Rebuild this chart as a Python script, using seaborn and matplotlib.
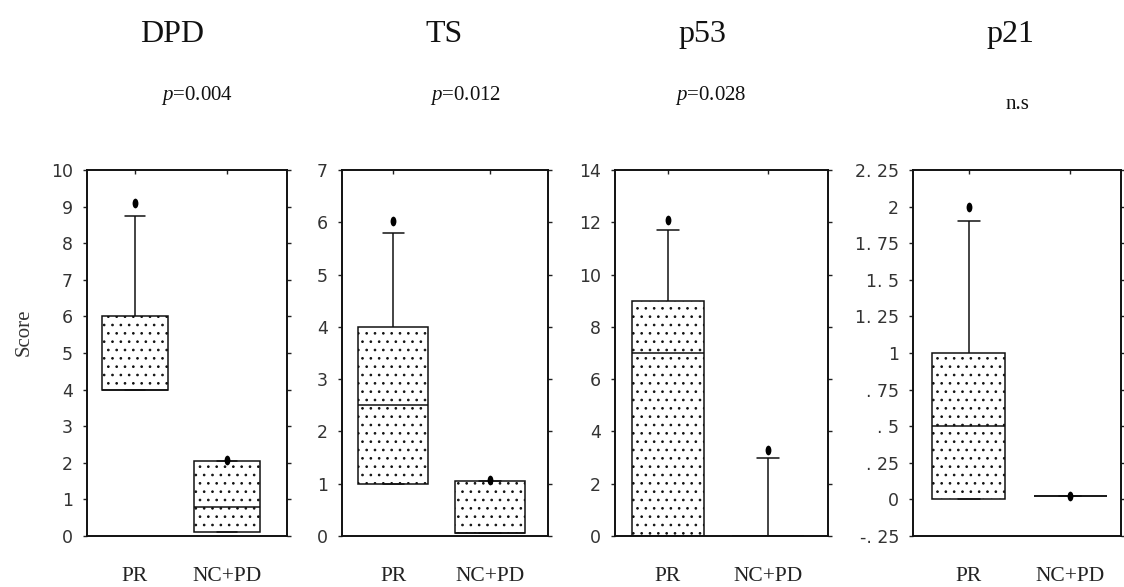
import numpy as np
import pandas as pd
import matplotlib
matplotlib.use("Agg")
import matplotlib.pyplot as plt
import seaborn as sns
from matplotlib.markers import MarkerStyle
from matplotlib.transforms import Affine2D, ScaledTranslation

# ---- data -------------------------------------------------------------
groups = ["PR", "NC+PD"]
panel_titles = ["DPD", "TS", "p53", "p21"]
p_labels = [r"$p$=0.004", r"$p$=0.012", r"$p$=0.028", "n.s"]

# five-number summaries: lower whisker, Q1, median, Q3, upper whisker
dpd_pr = [4.0, 4.0, 4.0, 6.0, 8.75]
dpd_nc = [0.1, 0.1, 0.8, 2.05, 2.05]
ts_pr = [1.0, 1.0, 2.5, 4.0, 5.8]
ts_nc = [0.05, 0.05, 0.05, 1.05, 1.05]
p53_pr = [0.0, 0.0, 7.0, 9.0, 11.7]
p53_nc = [0.0, 0.0, 0.0, 0.0, 3.0]
p21_pr = [0.0, 0.0, 0.5, 1.0, 1.9]
p21_nc = [0.02, 0.02, 0.02, 0.02, 0.02]

# outlying observations
dpd_out_pr, dpd_out_nc = [9.1], [2.08]
ts_out_pr, ts_out_nc = [6.02], [1.07]
p53_out_pr, p53_out_nc = [12.1], [3.3]
p21_out_pr, p21_out_nc = [2.0], [0.02]

# axis ranges and tick labels
ylims = [(0, 10), (0, 7), (0, 14), (-0.25, 2.25)]
yticks = [list(range(0, 11)), list(range(0, 8)), list(range(0, 15, 2)),
          [-0.25, 0, 0.25, 0.5, 0.75, 1, 1.25, 1.5, 1.75, 2, 2.25]]
ytick_labels = [[str(v) for v in yticks[0]], [str(v) for v in yticks[1]],
                [str(v) for v in yticks[2]],
                ["-. 25", "0", ". 25", ". 5", ". 75", "1", "1. 25",
                 "1. 5", "1. 75", "2", "2. 25"]]

boxes = [(dpd_pr, dpd_nc), (ts_pr, ts_nc), (p53_pr, p53_nc), (p21_pr, p21_nc)]
outliers = [(dpd_out_pr, dpd_out_nc), (ts_out_pr, ts_out_nc),
            (p53_out_pr, p53_out_nc), (p21_out_pr, p21_out_nc)]

# ---- layout -----------------------------------------------------------
W, H = 1124, 587
sns.set_theme(style="white")
plt.rcParams["font.family"] = ["Liberation Serif", "DejaVu Serif"]
plt.rcParams["mathtext.fontset"] = "custom"
plt.rcParams["mathtext.it"] = "Liberation Serif:italic"
plt.rcParams["mathtext.rm"] = "Liberation Serif"
plt.rcParams["hatch.linewidth"] = 0.7
plt.rcParams["hatch.color"] = "black"

fig = plt.figure(figsize=(W / 100, H / 100), dpi=100)
fig.patch.set_facecolor("white")

# axes rectangles in pixels: left, right, top, bottom
rects = [(87, 287, 170, 536), (342, 548, 170, 536),
         (615, 828, 170, 536), (913, 1121, 170, 536)]
xlims = [(-0.52, 1.65), (-0.53, 1.6), (-0.53, 1.6), (-0.55, 1.5)]
label_shift = [(-13, -26), (-21, -18), (4, 1), (-10, -11)]
title_x = [172, 444, 702, 1010]
pval_x = [197, 466, 711, 1017]
pval_y = [100, 100, 100, 109]

oval = MarkerStyle("o", transform=Affine2D().scale(0.6, 1.0))
tick_font = dict(family=["DejaVu Sans"], size=12.5)

for i in range(4):
    l, r, t, b = rects[i]
    ax = fig.add_axes([l / W, 1 - b / H, (r - l) / W, (b - t) / H])

    pr, nc = boxes[i]
    df = pd.DataFrame({"group": [groups[0]] * len(pr) + [groups[1]] * len(nc),
                       "value": pr + nc})
    sns.boxplot(data=df, x="group", y="value", order=groups, whis=(0, 100),
                showfliers=False, width=0.72, color="white",
                linecolor="#111111", linewidth=1.1, capwidths=0.22, ax=ax)
    for patch in ax.patches:
        patch.set_hatch("..")
        patch.set_facecolor("white")
        patch.set_edgecolor("#111111")

    opr, onc = outliers[i]
    odf = pd.DataFrame({"group": [groups[0]] * len(opr) + [groups[1]] * len(onc),
                        "value": opr + onc})
    sns.stripplot(data=odf, x="group", y="value", order=groups, jitter=False,
                  marker=oval, size=7, color="black", linewidth=0, ax=ax,
                  zorder=5)

    ax.set_xlim(*xlims[i])
    ax.set_ylim(*ylims[i])
    ax.set_yticks(yticks[i])
    ax.set_yticklabels(ytick_labels[i], fontdict=tick_font, color="#333333")
    ax.set_xticks([0, 1])
    ax.set_xticklabels(groups, fontsize=15.5, color="#222222")
    for lab, dx in zip(ax.get_xticklabels(), label_shift[i]):
        lab.set_transform(lab.get_transform() +
                          ScaledTranslation(dx / 100, 0, fig.dpi_scale_trans))
    ax.set_xlabel("")
    ax.set_ylabel("")

    ax.tick_params(axis="y", which="both", left=True, right=True,
                   direction="out", length=3, width=1, pad=7, color="#222222")
    ax.tick_params(axis="y", which="both", right=True, labelright=False)
    ax.tick_params(axis="x", bottom=False, top=True, direction="in",
                   length=3, width=1, pad=22, color="#222222")

    for side in ["left", "right", "top", "bottom"]:
        ax.spines[side].set_visible(True)
        ax.spines[side].set_color("#111111")
        ax.spines[side].set_linewidth(1.4)

    fig.text(title_x[i] / W, 1 - 42 / H, panel_titles[i], ha="center",
             va="baseline", fontsize=23, color="#111111")
    fig.text(pval_x[i] / W, 1 - pval_y[i] / H, p_labels[i], ha="center",
             va="baseline", fontsize=15, color="#111111")

fig.text(24 / W, 1 - 332 / H, "Score", rotation=90, ha="center", va="center",
         fontsize=15, color="#333333")

fig.savefig("out.png", dpi=100, facecolor="white")
